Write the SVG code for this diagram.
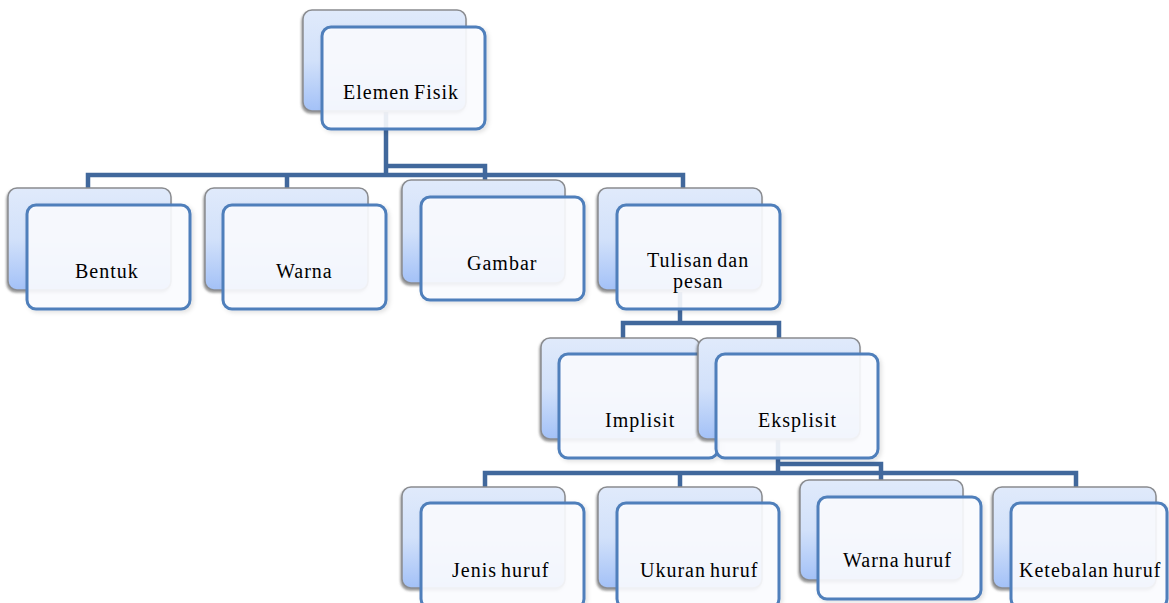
<svg xmlns="http://www.w3.org/2000/svg" width="1169" height="603" viewBox="0 0 1169 603">
<defs>
<linearGradient id="bg" x1="0" y1="0" x2="0" y2="1">
<stop offset="0" stop-color="#e0eafb"/>
<stop offset="0.5" stop-color="#d2e1fa"/>
<stop offset="1" stop-color="#a3c1f7"/>
</linearGradient>
<filter id="sh" x="-10%" y="-10%" width="125%" height="125%">
<feDropShadow dx="-1" dy="2" stdDeviation="1" flood-color="#555" flood-opacity="0.6"/>
</filter>
<filter id="fs" x="-10%" y="-10%" width="125%" height="125%">
<feDropShadow dx="2" dy="2" stdDeviation="2" flood-color="#000" flood-opacity="0.12"/>
</filter>
</defs>
<style>
.back{fill:url(#bg);stroke:#8a8c90;stroke-width:1.5;filter:url(#sh)}
.front{fill:#fbfcff;fill-opacity:0.9;stroke:#4f7fbb;stroke-width:3;filter:url(#fs)}
.t{font-family:"Liberation Serif","Times New Roman",serif;font-size:20px;letter-spacing:1px;word-spacing:-2px;fill:#000}
.c{fill:none;stroke:#41689c;stroke-width:4.5;stroke-linejoin:miter}
</style>
<rect width="1169" height="603" fill="#fff"/>
<g id="connectors">
<path class="c" d="M386 112 V175 M88 190 V175 H683 V190 M287 175 V190 M485 175 V182 M386 166 H485 V182"/>
<path class="c" d="M680 292 V323 M623 340 V323 H779 V340"/>
<path class="c" d="M778 440 V473 M485 490 V473 H1076 V490 M680 473 V490 M778 464 H881 V483"/>
</g>
<g id="n-elemen-fisik">
<rect class="back" x="303" y="10" width="163" height="101" rx="9"/>
<rect class="front" x="322" y="27" width="163" height="102" rx="9"/>
<text class="t" x="343" y="99">Elemen Fisik</text>
</g>
<g id="n-bentuk">
<rect class="back" x="8" y="188" width="163" height="102" rx="9"/>
<rect class="front" x="27" y="205" width="163" height="104" rx="9"/>
<text class="t" x="75" y="278">Bentuk</text>
</g>
<g id="n-warna">
<rect class="back" x="205" y="188" width="163" height="102" rx="9"/>
<rect class="front" x="223" y="205" width="163" height="104" rx="9"/>
<text class="t" x="276" y="278">Warna</text>
</g>
<g id="n-gambar">
<rect class="back" x="402" y="180" width="163" height="103" rx="9"/>
<rect class="front" x="421" y="197" width="163" height="103" rx="9"/>
<text class="t" x="467" y="270">Gambar</text>
</g>
<g id="n-tulisan">
<rect class="back" x="598" y="188" width="164" height="102" rx="9"/>
<rect class="front" x="617" y="205" width="163" height="104" rx="9"/>
<text class="t" x="647" y="267">Tulisan dan</text>
<text class="t" x="673" y="288">pesan</text>
</g>
<g id="n-implisit">
<rect class="back" x="541" y="338" width="159" height="101" rx="9"/>
<rect class="front" x="559" y="354" width="159" height="104" rx="9"/>
<text class="t" x="605" y="427">Implisit</text>
</g>
<g id="n-eksplisit">
<rect class="back" x="698" y="338" width="162" height="101" rx="9"/>
<rect class="front" x="716" y="354" width="162" height="104" rx="9"/>
<text class="t" x="758" y="427">Eksplisit</text>
</g>
<g id="n-jenis-huruf">
<rect class="back" x="402" y="487" width="163" height="101" rx="9"/>
<rect class="front" x="421" y="503" width="163" height="105" rx="9"/>
<text class="t" x="452" y="577">Jenis huruf</text>
</g>
<g id="n-ukuran-huruf">
<rect class="back" x="598" y="487" width="164" height="101" rx="9"/>
<rect class="front" x="617" y="503" width="162" height="105" rx="9"/>
<text class="t" x="640" y="577">Ukuran huruf</text>
</g>
<g id="n-warna-huruf">
<rect class="back" x="800" y="480" width="163" height="100" rx="9"/>
<rect class="front" x="818" y="497" width="163" height="102" rx="9"/>
<text class="t" x="843" y="567">Warna huruf</text>
</g>
<g id="n-ketebalan-huruf">
<rect class="back" x="993" y="487" width="163" height="101" rx="9"/>
<rect class="front" x="1011" y="503" width="156" height="105" rx="9"/>
<text class="t" x="1019" y="577">Ketebalan huruf</text>
</g>
</svg>
